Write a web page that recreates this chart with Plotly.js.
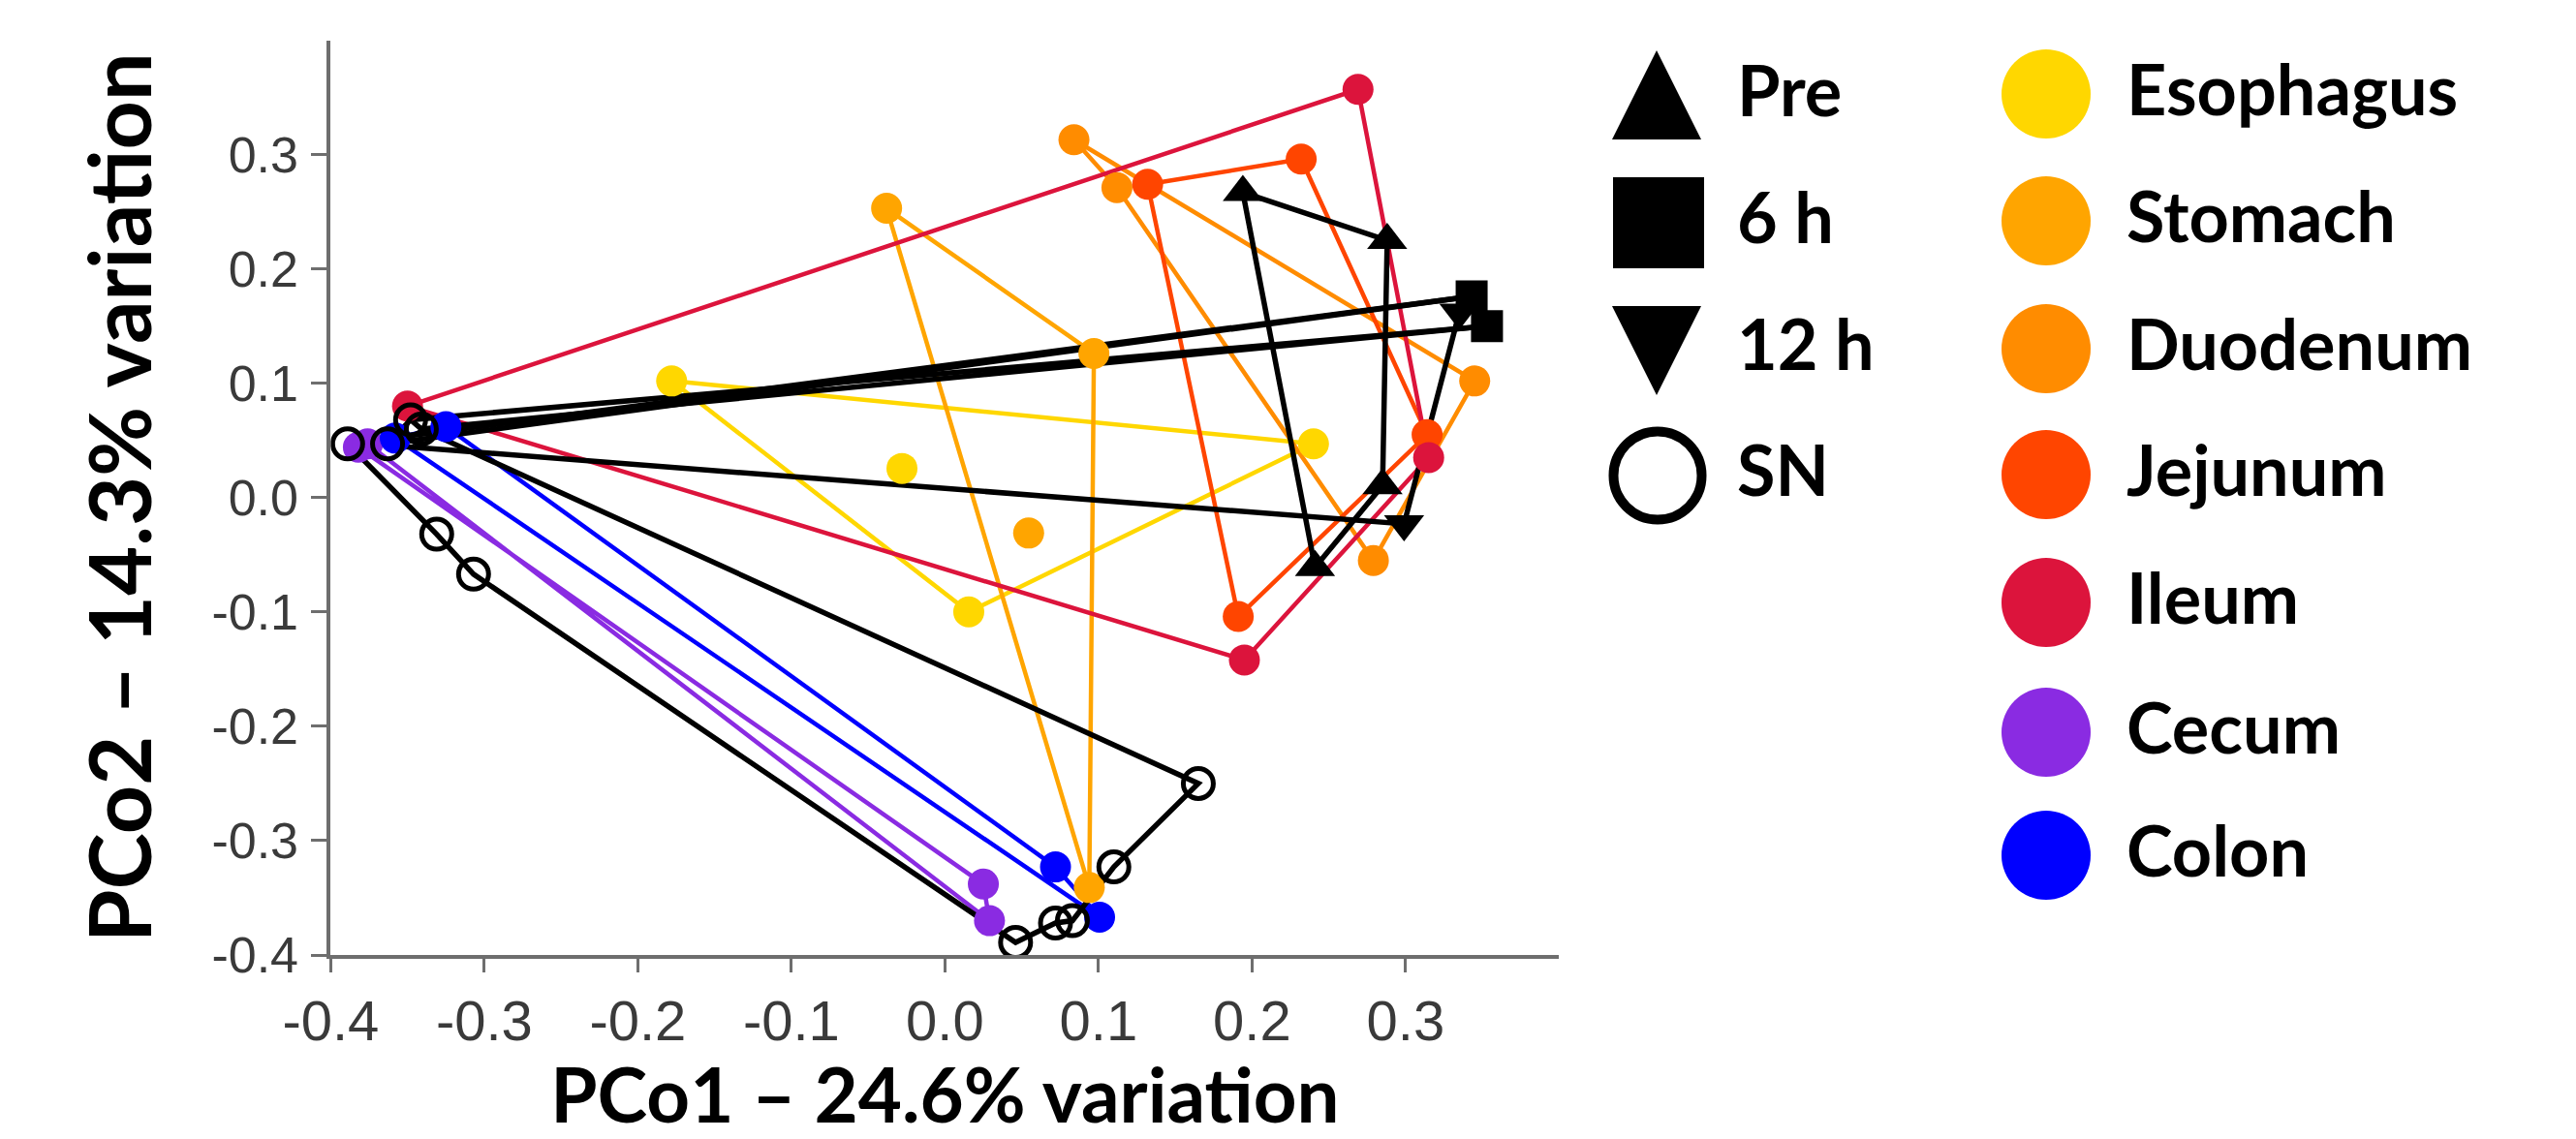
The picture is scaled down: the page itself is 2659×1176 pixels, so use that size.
<!DOCTYPE html>
<html>
<head>
<meta charset="utf-8">
<script src="https://cdn.plot.ly/plotly-3.0.1.min.js"></script>
<style>
html, body { margin: 0; padding: 0; background: #ffffff; }
#chart { width: 2659px; height: 1176px; }
</style>
</head>
<body>
<div id="chart"></div>
<script>
// ---------------- data ----------------
const xTickVals = [-0.4, -0.3, -0.2, -0.1, 0.0, 0.1, 0.2, 0.3];
const xTickText = ['-0.4', '-0.3', '-0.2', '-0.1', '0.0', '0.1', '0.2', '0.3'];
const yTickVals = [-0.4, -0.3, -0.2, -0.1, 0.0, 0.1, 0.2, 0.3];
const yTickText = ['-0.4', '-0.3', '-0.2', '-0.1', '0.0', '0.1', '0.2', '0.3'];

const xTitle = 'PCo1 – 24.6% variation';
const yTitle = 'PCo2 – 14.3% variation';

const organNames = ['Esophagus', 'Stomach', 'Duodenum', 'Jejunum', 'Ileum', 'Cecum', 'Colon'];
const organColors = ['#FFD700', '#FFA500', '#FF8C00', '#FF4500', '#DC143C', '#8A2BE2', '#0000FF'];

const timeNames = ['Pre', '6 h', '12 h', 'SN'];

// organ samples (connected in order, path closed)
const esophagusX = [-0.178, 0.240, 0.0155];
const esophagusY = [0.102, 0.047, -0.100];
const esophagusLoneX = [-0.028];
const esophagusLoneY = [0.0255];

const stomachX = [-0.038, 0.097, 0.094];
const stomachY = [0.253, 0.126, -0.341];
const stomachLoneX = [0.0545];
const stomachLoneY = [-0.031];

const duodenumX = [0.084, 0.345, 0.279, 0.112];
const duodenumY = [0.313, 0.102, -0.055, 0.271];

const jejunumX = [0.132, 0.232, 0.314, 0.191];
const jejunumY = [0.274, 0.296, 0.055, -0.104];

const ileumX = [-0.350, 0.269, 0.315, 0.195];
const ileumY = [0.080, 0.357, 0.035, -0.142];

const cecumX = [-0.382, 0.025, 0.029, -0.376];
const cecumY = [0.044, -0.338, -0.370, 0.047];

const colonX = [-0.325, 0.072, 0.1007, -0.358];
const colonY = [0.062, -0.323, -0.367, 0.052];

// black time-point samples
const preX = [0.241, 0.194, 0.288, 0.285];
const preY = [-0.061, 0.267, 0.225, 0.0105];

const h6X = [0.343, 0.353];
const h6Y = [0.176, 0.150];
const h6PathX = [-0.389, 0.343, null, -0.363, 0.343, null, -0.341, 0.353, null, -0.348, 0.353];
const h6PathY = [0.047, 0.176, null, 0.047, 0.176, null, 0.060, 0.150, null, 0.068, 0.150];

const h12X = [0.299, 0.335];
const h12Y = [-0.023, 0.162];
const h12PathX = [-0.375, 0.299, 0.335];
const h12PathY = [0.047, -0.023, 0.162];

const snX = [-0.389, -0.331, -0.307, 0.046, 0.072, 0.083, 0.110, 0.165, -0.341, -0.348, -0.363];
const snY = [0.047, -0.032, -0.067, -0.389, -0.372, -0.370, -0.323, -0.250, 0.060, 0.068, 0.047];

// ---------------- layout constants ----------------
const W = 2659, H = 1176;
const plotL = 341.4, plotR = 1609.4, plotT = 41.5, plotB = 986;
const titleFont = 'Lato, "Open Sans", sans-serif';
const tickFont = '"Liberation Sans", Arial, sans-serif';

const close = a => a.concat([a[0]]);

const organSets = [
  [esophagusX, esophagusY], [stomachX, stomachY], [duodenumX, duodenumY],
  [jejunumX, jejunumY], [ileumX, ileumY], [cecumX, cecumY], [colonX, colonY]
];

const traces = [];

// organ connection lines
organSets.forEach((s, i) => {
  traces.push({
    type: 'scatter', mode: 'lines', x: close(s[0]), y: close(s[1]),
    line: { color: organColors[i], width: 4.5 }, hoverinfo: 'skip', showlegend: false
  });
});

// black connection lines
const blackLine = { color: '#000000', width: 5.5 };
traces.push({ type: 'scatter', mode: 'lines', x: close(preX), y: close(preY), line: blackLine, showlegend: false });
traces.push({ type: 'scatter', mode: 'lines', x: h6PathX, y: h6PathY, line: blackLine, showlegend: false, connectgaps: false });
traces.push({ type: 'scatter', mode: 'lines', x: h12PathX, y: h12PathY, line: blackLine, showlegend: false });
traces.push({ type: 'scatter', mode: 'lines', x: close(snX), y: close(snY), line: blackLine, showlegend: false });

// organ markers
organSets.forEach((s, i) => {
  traces.push({
    type: 'scatter', mode: 'markers', x: s[0], y: s[1], name: organNames[i],
    marker: { color: organColors[i], size: 32, line: { width: 0 } }, showlegend: false
  });
});
traces.push({ type: 'scatter', mode: 'markers', x: esophagusLoneX, y: esophagusLoneY,
  marker: { color: organColors[0], size: 32 }, showlegend: false });
traces.push({ type: 'scatter', mode: 'markers', x: stomachLoneX, y: stomachLoneY,
  marker: { color: organColors[1], size: 32 }, showlegend: false });

// time-point markers
traces.push({ type: 'scatter', mode: 'markers', x: snX, y: snY, name: 'SN',
  marker: { symbol: 'circle-open', size: 31, color: '#000', line: { width: 5, color: '#000' } }, showlegend: false });
traces.push({ type: 'scatter', mode: 'markers', x: preX, y: preY, name: 'Pre',
  marker: { symbol: 'triangle-up', size: 36, color: '#000' }, showlegend: false });
traces.push({ type: 'scatter', mode: 'markers', x: h6X, y: h6Y, name: '6 h',
  marker: { symbol: 'square', size: 33, color: '#000' }, showlegend: false });
traces.push({ type: 'scatter', mode: 'markers', x: h12X, y: h12Y, name: '12 h',
  marker: { symbol: 'triangle-down', size: 36, color: '#000' }, showlegend: false });

// ---------------- custom legend (pixel-unit axes) ----------------
const legTimeSymX = 1710, legTimeTextX = 1793;
const legOrganSymX = 2112, legOrganTextX = 2195;
const legOrganRowY = [97, 228, 360, 490, 622, 756, 883];
const legTimeRowY = [99, 230, 361, 491];

traces.push({ type: 'scatter', mode: 'markers', xaxis: 'x2', yaxis: 'y2',
  x: [legTimeSymX], y: [legTimeRowY[0] - 47], marker: { symbol: 'arrow-up', size: 92, color: '#000', line: { width: 0 } }, showlegend: false });
traces.push({ type: 'scatter', mode: 'markers', xaxis: 'x2', yaxis: 'y2',
  x: [legTimeSymX + 2], y: [legTimeRowY[1]], marker: { symbol: 'square', size: 94, color: '#000', line: { width: 0 } }, showlegend: false });
traces.push({ type: 'scatter', mode: 'markers', xaxis: 'x2', yaxis: 'y2',
  x: [legTimeSymX], y: [legTimeRowY[2] + 47], marker: { symbol: 'arrow-down', size: 92, color: '#000', line: { width: 0 } }, showlegend: false });
traces.push({ type: 'scatter', mode: 'markers', xaxis: 'x2', yaxis: 'y2',
  x: [legTimeSymX + 1], y: [legTimeRowY[3]], marker: { symbol: 'circle-open', size: 91, color: '#000', line: { width: 10, color: '#000' } }, showlegend: false });
traces.push({ type: 'scatter', mode: 'text', xaxis: 'x2', yaxis: 'y2',
  x: timeNames.map(() => legTimeTextX), y: legTimeRowY.map(v => v + 3), text: timeNames,
  textposition: 'middle right', textfont: { family: titleFont, size: 72, color: '#000', weight: 'bold' }, showlegend: false });

traces.push({ type: 'scatter', mode: 'markers', xaxis: 'x2', yaxis: 'y2',
  x: organNames.map(() => legOrganSymX), y: legOrganRowY,
  marker: { size: 92, color: organColors, line: { width: 0 } }, showlegend: false });
traces.push({ type: 'scatter', mode: 'text', xaxis: 'x2', yaxis: 'y2',
  x: organNames.map(() => legOrganTextX), y: legOrganRowY.map(v => v + 4), text: organNames,
  textposition: 'middle right', textfont: { family: titleFont, size: 72, color: '#000', weight: 'bold' }, showlegend: false });

const axisCommon = {
  showgrid: false, zeroline: false, showline: true, linecolor: '#6e6e6e', linewidth: 4,
  ticks: 'outside', tickwidth: 3, tickcolor: '#6e6e6e', tickmode: 'array',
  range: [-0.4, 0.4], fixedrange: true
};

const layout = {
  width: W, height: H,
  margin: { l: 0, r: 0, t: 0, b: 0, pad: 0 },
  paper_bgcolor: '#ffffff', plot_bgcolor: 'rgba(0,0,0,0)',
  showlegend: false,
  xaxis: Object.assign({}, axisCommon, {
    domain: [plotL / W, plotR / W], anchor: 'y',
    tickvals: xTickVals, ticktext: xTickText, ticklen: 14,
    tickfont: { family: tickFont, size: 58, color: '#3a3a3a' },
    title: { text: xTitle, font: { family: titleFont, size: 78, color: '#000', weight: 'bold' }, standoff: 30 }
  }),
  yaxis: Object.assign({}, axisCommon, {
    domain: [(H - plotB) / H, (H - plotT) / H], anchor: 'x',
    tickvals: yTickVals, ticktext: yTickText, ticklen: 16, ticklabelstandoff: 3,
    tickfont: { family: tickFont, size: 52, color: '#3a3a3a' },
    title: { text: yTitle, font: { family: titleFont, size: 88, color: '#000', weight: 'bold' }, standoff: 34 }
  }),
  xaxis2: { domain: [0.6, 1], range: [0.6 * W, W], visible: false, anchor: 'y2', fixedrange: true },
  yaxis2: { domain: [0, 1], range: [H, 0], visible: false, anchor: 'x2', fixedrange: true }
};

Plotly.newPlot('chart', traces, layout, { displayModeBar: false, staticPlot: true });
</script>
</body>
</html>
